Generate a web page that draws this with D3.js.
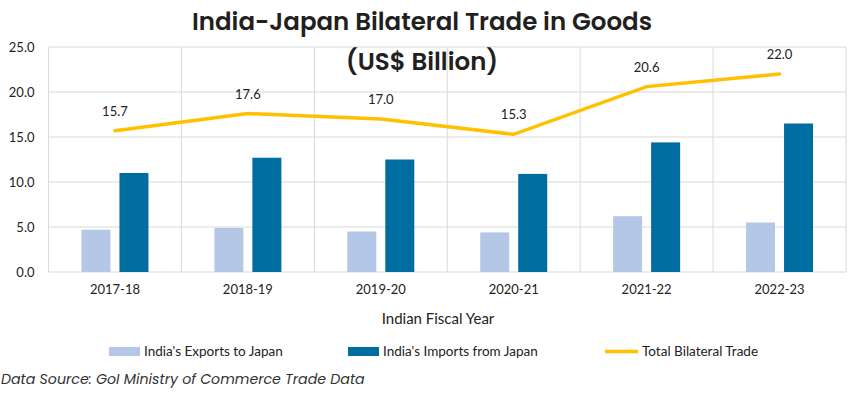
<!DOCTYPE html>
<html><head><meta charset="utf-8">
<script src="https://cdn.jsdelivr.net/npm/d3@7"></script>
<style>body{margin:0;background:#fff}svg{display:block}</style>
</head><body>
<svg id="c" width="850" height="393"></svg>
<script>
const categories = ["2017-18","2018-19","2019-20","2020-21","2021-22","2022-23"];
const exportsToJapan = [4.7, 4.9, 4.5, 4.4, 6.2, 5.5];
const importsFromJapan = [11.0, 12.7, 12.5, 10.9, 14.4, 16.5];
const totalTrade = [15.7, 17.6, 17.0, 15.3, 20.6, 22.0];
const yTicks = [0, 5, 10, 15, 20, 25];
const seriesNames = ["India's Exports to Japan","India's Imports from Japan","Total Bilateral Trade"];
const colors = ["#B4C7E7","#006DA0","#FFC000"];

const svg = d3.select("#c");
const L = 48.5, R = 846, T = 47, B = 272;
const x = d3.scaleBand().domain(categories).range([L, R]);
const y = d3.scaleLinear().domain([0, 25]).range([B, T]);
const font = "Lato, 'Liberation Sans', sans-serif";

// gridlines
const g = svg.append("g");
g.selectAll(".hg").data(yTicks).join("line")
  .attr("x1", L).attr("x2", R).attr("y1", d => y(d)).attr("y2", d => y(d))
  .attr("stroke", "#d9d9d9").attr("stroke-width", 1);
const vx = categories.map(c => x(c)).concat([R]);
g.selectAll(".vg").data(vx).join("line")
  .attr("x1", d => d).attr("x2", d => d).attr("y1", T).attr("y2", B)
  .attr("stroke", "#d9d9d9").attr("stroke-width", 1);

// y axis labels
const yAxis = svg.append("g").attr("transform", `translate(${L},0)`)
  .call(d3.axisLeft(y).tickValues(yTicks).tickFormat(d3.format(".1f")).tickSize(0).tickPadding(14));
yAxis.select(".domain").remove();
yAxis.selectAll("text").attr("font-family", font).attr("font-size", 13).attr("fill", "#222");

// x axis labels
const xAxis = svg.append("g").attr("transform", `translate(0,${B})`)
  .call(d3.axisBottom(x).tickSize(0).tickPadding(13));
xAxis.select(".domain").remove();
xAxis.selectAll("text").attr("font-family", font).attr("font-size", 13).attr("fill", "#222");

// bars
const bw = 29, gap = 9;
svg.append("g").selectAll("rect").data(categories).join("rect")
  .attr("x", d => x(d) + x.bandwidth()/2 - gap/2 - bw)
  .attr("y", (d,i) => y(exportsToJapan[i]))
  .attr("width", bw).attr("height", (d,i) => B - y(exportsToJapan[i]))
  .attr("fill", colors[0]);
svg.append("g").selectAll("rect").data(categories).join("rect")
  .attr("x", d => x(d) + x.bandwidth()/2 + gap/2)
  .attr("y", (d,i) => y(importsFromJapan[i]))
  .attr("width", bw).attr("height", (d,i) => B - y(importsFromJapan[i]))
  .attr("fill", colors[1]);

// line
const line = d3.line().x((d,i) => x(categories[i]) + x.bandwidth()/2).y(d => y(d));
svg.append("path").datum(totalTrade).attr("d", line)
  .attr("fill", "none").attr("stroke", colors[2]).attr("stroke-width", 3.5).attr("stroke-linecap", "round");
svg.append("g").selectAll("text").data(totalTrade).join("text")
  .attr("x", (d,i) => x(categories[i]) + x.bandwidth()/2)
  .attr("y", d => y(d) - 15)
  .attr("text-anchor", "middle").attr("font-family", font).attr("font-size", 13).attr("fill", "#222")
  .text(d => d.toFixed(1));

// title
const tfont = "Poppins, Inter, 'Open Sans', sans-serif";
svg.append("text").attr("x", 422).attr("y", 30).attr("text-anchor", "middle")
  .attr("font-family", tfont).attr("font-weight", 600).attr("font-size", 24.5).attr("fill", "#231f20")
  .text("India-Japan Bilateral Trade in Goods");
svg.append("text").attr("x", 422).attr("y", 70).attr("text-anchor", "middle")
  .attr("font-family", tfont).attr("font-weight", 600).attr("font-size", 24.5).attr("fill", "#231f20")
  .text("(US$ Billion)");

// axis title
svg.append("text").attr("x", 438).attr("y", 324).attr("text-anchor", "middle")
  .attr("font-family", font).attr("font-size", 15).attr("fill", "#222").text("Indian Fiscal Year");

// legend
const lg = svg.append("g");
const lx = [109, 348, 605];
lg.append("rect").attr("x", lx[0]).attr("y", 347).attr("width", 31).attr("height", 9).attr("fill", colors[0]);
lg.append("rect").attr("x", lx[1]).attr("y", 347).attr("width", 31).attr("height", 9).attr("fill", colors[1]);
lg.append("line").attr("x1", lx[2]).attr("x2", lx[2] + 33).attr("y1", 351.5).attr("y2", 351.5)
  .attr("stroke", colors[2]).attr("stroke-width", 3.5);
lg.selectAll("text").data(seriesNames).join("text")
  .attr("x", (d,i) => lx[i] + (i === 2 ? 37 : 35)).attr("y", 356)
  .attr("font-family", font).attr("font-size", 13.5).attr("fill", "#222").text(d => d);

// source
svg.append("text").attr("x", 1).attr("y", 384)
  .attr("font-family", tfont).attr("font-style", "italic").attr("font-size", 14.2).attr("fill", "#333")
  .text("Data Source: GoI Ministry of Commerce Trade Data");
</script>
</body></html>
